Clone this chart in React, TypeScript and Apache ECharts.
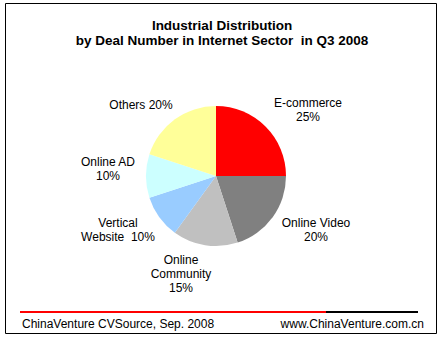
import React, { useEffect, useRef } from "react";
import * as echarts from "echarts";

const categories = ["E-commerce", "Online Video", "Online Community", "Vertical Website", "Online AD", "Others"];
const values = [25, 20, 15, 10, 10, 20];
const colors = ["#ff0000", "#808080", "#c0c0c0", "#99ccff", "#ccffff", "#ffff99"];
const labelTexts = [
  "E-commerce\n25%",
  "Online Video\n20%",
  "Online\nCommunity\n15%",
  "Vertical\nWebsite  10%",
  "Online AD\n10%",
  "Others 20%",
];
const labelPos: [number, number][] = [
  [308, 110],
  [316, 230],
  [181, 274],
  [118, 230],
  [108, 169],
  [141, 105],
];
const titleLines = ["Industrial Distribution", "by Deal Number in Internet Sector  in Q3 2008"];
const footerLeft = "ChinaVenture CVSource, Sep. 2008";
const footerRight = "www.ChinaVenture.com.cn";

export default function App() {
  const ref = useRef<HTMLDivElement>(null);
  useEffect(() => {
    document.body.style.margin = "0";
    const chart = echarts.init(ref.current!, null, { renderer: "svg" });
    const font = "Arial, 'Liberation Sans', sans-serif";
    chart.setOption({
      animation: false,
      backgroundColor: "#ffffff",
      graphic: [
        { type: "rect", shape: { x: 5.5, y: 3.5, width: 431, height: 330 }, style: { fill: "none", stroke: "#000", lineWidth: 1 } },
        { type: "text", x: 222, y: 25, style: { text: titleLines[0], font: `bold 13.5px ${font}`, fill: "#000", align: "center", verticalAlign: "middle" } },
        { type: "text", x: 222, y: 40, style: { text: titleLines[1], font: `bold 13.5px ${font}`, fill: "#000", align: "center", verticalAlign: "middle" } },
        { type: "line", shape: { x1: 20, y1: 312, x2: 326, y2: 312 }, style: { stroke: "#ff0000", lineWidth: 2 } },
        { type: "line", shape: { x1: 326, y1: 312, x2: 418, y2: 312 }, style: { stroke: "#000000", lineWidth: 2 } },
        { type: "text", x: 22, y: 324, style: { text: footerLeft, font: `12px ${font}`, fill: "#000", verticalAlign: "middle", align: "left" } },
        { type: "text", x: 424, y: 324, style: { text: footerRight, font: `12px ${font}`, fill: "#000", verticalAlign: "middle", align: "right" } },
      ],
      series: [
        {
          type: "pie",
          center: [216, 176],
          radius: 70,
          startAngle: 90,
          clockwise: true,
          silent: true,
          itemStyle: { borderWidth: 0 },
          label: {
            show: true,
            formatter: (p: any) => labelTexts[p.dataIndex],
            fontFamily: font,
            fontSize: 12,
            color: "#000",
            lineHeight: 14,
            align: "center",
          },
          labelLine: { show: false },
          labelLayout: (p: any) => ({
            x: labelPos[p.dataIndex][0],
            y: labelPos[p.dataIndex][1],
            align: "center",
            verticalAlign: "middle",
          }),
          data: categories.map((c, i) => ({ name: c, value: values[i], itemStyle: { color: colors[i] } })),
        },
      ],
    });
    return () => chart.dispose();
  }, []);
  return <div ref={ref} style={{ width: 441, height: 338 }} />;
}
